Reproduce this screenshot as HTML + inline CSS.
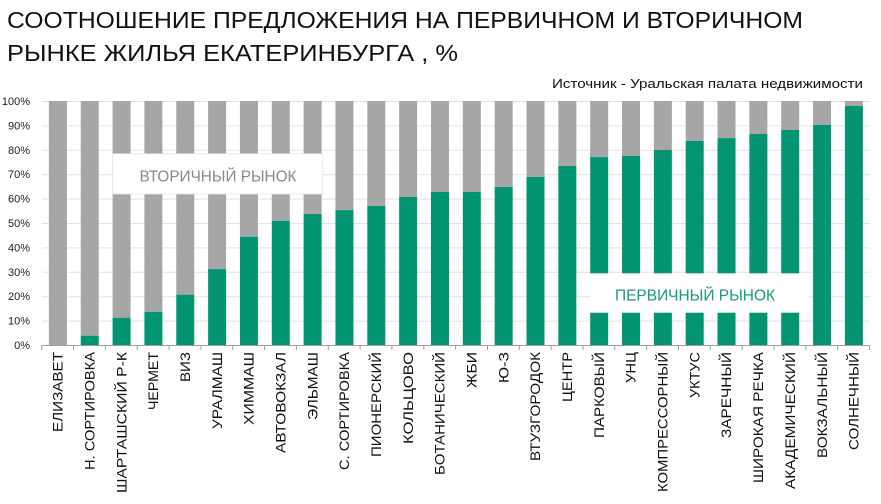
<!DOCTYPE html>
<html><head><meta charset="utf-8"><style>
html,body{margin:0;padding:0;background:#fff;}
svg{display:block;}
text{font-family:"Liberation Sans","Noto Sans CJK SC",sans-serif;}
</style></head><body>
<svg width="881" height="504" viewBox="0 0 881 504" xmlns="http://www.w3.org/2000/svg">
<rect width="881" height="504" fill="#fff"/>
<!-- title -->
<text x="7" y="28" font-size="23.5" fill="#111" textLength="796" lengthAdjust="spacingAndGlyphs">СООТНОШЕНИЕ ПРЕДЛОЖЕНИЯ НА ПЕРВИЧНОМ И ВТОРИЧНОМ</text>
<text x="7" y="61" font-size="23.5" fill="#111" textLength="451" lengthAdjust="spacingAndGlyphs">РЫНКЕ ЖИЛЬЯ ЕКАТЕРИНБУРГА , %</text>
<text x="552" y="88" font-size="13" fill="#111" textLength="311" lengthAdjust="spacingAndGlyphs">Источник - Уральская палата недвижимости</text>
<!-- grid -->
<g stroke="#e2e2e2" stroke-width="1">
<line x1="42" x2="870" y1="101.5" y2="101.5"/>
<line x1="42" x2="870" y1="125.9" y2="125.9"/>
<line x1="42" x2="870" y1="150.3" y2="150.3"/>
<line x1="42" x2="870" y1="174.7" y2="174.7"/>
<line x1="42" x2="870" y1="199.1" y2="199.1"/>
<line x1="42" x2="870" y1="223.5" y2="223.5"/>
<line x1="42" x2="870" y1="247.9" y2="247.9"/>
<line x1="42" x2="870" y1="272.3" y2="272.3"/>
<line x1="42" x2="870" y1="296.7" y2="296.7"/>
<line x1="42" x2="870" y1="321.1" y2="321.1"/>
</g>
<!-- y labels -->
<g font-size="11" fill="#222" text-anchor="end">
<text x="30" y="105">100%</text>
<text x="30" y="129.4">90%</text>
<text x="30" y="153.8">80%</text>
<text x="30" y="178.2">70%</text>
<text x="30" y="202.6">60%</text>
<text x="30" y="227">50%</text>
<text x="30" y="251.4">40%</text>
<text x="30" y="275.8">30%</text>
<text x="30" y="300.2">20%</text>
<text x="30" y="324.6">10%</text>
<text x="30" y="349">0%</text>
</g>
<!-- bars -->
<g fill="#a6a6a6">
<rect x="48.9" y="101" width="18" height="244"/>
<rect x="80.74" y="101" width="18" height="234.7"/>
<rect x="112.58" y="101" width="18" height="216.7"/>
<rect x="144.42" y="101" width="18" height="210.8"/>
<rect x="176.26" y="101" width="18" height="193.7"/>
<rect x="208.1" y="101" width="18" height="168.1"/>
<rect x="239.94" y="101" width="18" height="135.7"/>
<rect x="271.78" y="101" width="18" height="120"/>
<rect x="303.62" y="101" width="18" height="113"/>
<rect x="335.46" y="101" width="18" height="109.1"/>
<rect x="367.3" y="101" width="18" height="104.9"/>
<rect x="399.14" y="101" width="18" height="95.9"/>
<rect x="430.98" y="101" width="18" height="91"/>
<rect x="462.82" y="101" width="18" height="91"/>
<rect x="494.66" y="101" width="18" height="85.9"/>
<rect x="526.5" y="101" width="18" height="75.9"/>
<rect x="558.34" y="101" width="18" height="64.9"/>
<rect x="590.18" y="101" width="18" height="56.1"/>
<rect x="622.02" y="101" width="18" height="54.9"/>
<rect x="653.86" y="101" width="18" height="49"/>
<rect x="685.7" y="101" width="18" height="40"/>
<rect x="717.54" y="101" width="18" height="37.1"/>
<rect x="749.38" y="101" width="18" height="32.9"/>
<rect x="781.22" y="101" width="18" height="29"/>
<rect x="813.06" y="101" width="18" height="23.9"/>
<rect x="844.9" y="101" width="18" height="4.9"/>
</g>
<g fill="#039474">
<rect x="80.74" y="335.7" width="18" height="9.3"/>
<rect x="112.58" y="317.7" width="18" height="27.3"/>
<rect x="144.42" y="311.8" width="18" height="33.2"/>
<rect x="176.26" y="294.7" width="18" height="50.3"/>
<rect x="208.1" y="269.1" width="18" height="75.9"/>
<rect x="239.94" y="236.7" width="18" height="108.3"/>
<rect x="271.78" y="221" width="18" height="124"/>
<rect x="303.62" y="214" width="18" height="131"/>
<rect x="335.46" y="210.1" width="18" height="134.9"/>
<rect x="367.3" y="205.9" width="18" height="139.1"/>
<rect x="399.14" y="196.9" width="18" height="148.1"/>
<rect x="430.98" y="192" width="18" height="153"/>
<rect x="462.82" y="192" width="18" height="153"/>
<rect x="494.66" y="186.9" width="18" height="158.1"/>
<rect x="526.5" y="176.9" width="18" height="168.1"/>
<rect x="558.34" y="165.9" width="18" height="179.1"/>
<rect x="590.18" y="157.1" width="18" height="187.9"/>
<rect x="622.02" y="155.9" width="18" height="189.1"/>
<rect x="653.86" y="150" width="18" height="195"/>
<rect x="685.7" y="141" width="18" height="204"/>
<rect x="717.54" y="138.1" width="18" height="206.9"/>
<rect x="749.38" y="133.9" width="18" height="211.1"/>
<rect x="781.22" y="130" width="18" height="215"/>
<rect x="813.06" y="124.9" width="18" height="220.1"/>
<rect x="844.9" y="105.9" width="18" height="239.1"/>
</g>
<!-- annotation boxes -->
<rect x="112.7" y="153.8" width="210" height="40.2" fill="#fff" stroke="#e4e4e4" stroke-width="0.8"/>
<text x="139.5" y="181.3" font-size="16" fill="#8a8a8a" textLength="157" lengthAdjust="spacingAndGlyphs">ВТОРИЧНЫЙ РЫНОК</text>
<rect x="590" y="273.3" width="218.5" height="39.4" fill="#fff"/>
<text x="615" y="300.3" font-size="15.5" fill="#1b9a7b" textLength="160" lengthAdjust="spacingAndGlyphs">ПЕРВИЧНЫЙ РЫНОК</text>
<!-- x axis -->
<line x1="41.7" x2="869.5" y1="345.5" y2="345.5" stroke="#a0a0a0" stroke-width="1"/>
<g stroke="#a0a0a0" stroke-width="1">
<line x1="41.7" x2="41.7" y1="345" y2="350"/>
<line x1="73.5" x2="73.5" y1="345" y2="350"/>
<line x1="105.4" x2="105.4" y1="345" y2="350"/>
<line x1="137.2" x2="137.2" y1="345" y2="350"/>
<line x1="169.1" x2="169.1" y1="345" y2="350"/>
<line x1="200.9" x2="200.9" y1="345" y2="350"/>
<line x1="232.7" x2="232.7" y1="345" y2="350"/>
<line x1="264.6" x2="264.6" y1="345" y2="350"/>
<line x1="296.4" x2="296.4" y1="345" y2="350"/>
<line x1="328.3" x2="328.3" y1="345" y2="350"/>
<line x1="360.1" x2="360.1" y1="345" y2="350"/>
<line x1="391.9" x2="391.9" y1="345" y2="350"/>
<line x1="423.8" x2="423.8" y1="345" y2="350"/>
<line x1="455.6" x2="455.6" y1="345" y2="350"/>
<line x1="487.5" x2="487.5" y1="345" y2="350"/>
<line x1="519.3" x2="519.3" y1="345" y2="350"/>
<line x1="551.1" x2="551.1" y1="345" y2="350"/>
<line x1="583" x2="583" y1="345" y2="350"/>
<line x1="614.8" x2="614.8" y1="345" y2="350"/>
<line x1="646.7" x2="646.7" y1="345" y2="350"/>
<line x1="678.5" x2="678.5" y1="345" y2="350"/>
<line x1="710.3" x2="710.3" y1="345" y2="350"/>
<line x1="742.2" x2="742.2" y1="345" y2="350"/>
<line x1="774" x2="774" y1="345" y2="350"/>
<line x1="805.9" x2="805.9" y1="345" y2="350"/>
<line x1="837.7" x2="837.7" y1="345" y2="350"/>
<line x1="869.5" x2="869.5" y1="345" y2="350"/>
</g>
<!-- x labels -->
<g font-size="13.5" fill="#111" text-anchor="end">
<text transform="translate(62.6,352) rotate(-90)" textLength="80" lengthAdjust="spacingAndGlyphs">ЕЛИЗАВЕТ</text>
<text transform="translate(94.4,352) rotate(-90)" textLength="118" lengthAdjust="spacingAndGlyphs">Н. СОРТИРОВКА</text>
<text transform="translate(126.3,352) rotate(-90)" textLength="141" lengthAdjust="spacingAndGlyphs">ШАРТАШСКИЙ Р-К</text>
<text transform="translate(158.1,352) rotate(-90)" textLength="58" lengthAdjust="spacingAndGlyphs">ЧЕРМЕТ</text>
<text transform="translate(190,352) rotate(-90)" textLength="30" lengthAdjust="spacingAndGlyphs">ВИЗ</text>
<text transform="translate(221.8,352) rotate(-90)" textLength="77" lengthAdjust="spacingAndGlyphs">УРАЛМАШ</text>
<text transform="translate(253.6,352) rotate(-90)" textLength="73" lengthAdjust="spacingAndGlyphs">ХИММАШ</text>
<text transform="translate(285.5,352) rotate(-90)" textLength="101" lengthAdjust="spacingAndGlyphs">АВТОВОКЗАЛ</text>
<text transform="translate(317.3,352) rotate(-90)" textLength="68" lengthAdjust="spacingAndGlyphs">ЭЛЬМАШ</text>
<text transform="translate(349.2,352) rotate(-90)" textLength="118" lengthAdjust="spacingAndGlyphs">С. СОРТИРОВКА</text>
<text transform="translate(381,352) rotate(-90)" textLength="105" lengthAdjust="spacingAndGlyphs">ПИОНЕРСКИЙ</text>
<text transform="translate(412.8,352) rotate(-90)" textLength="92" lengthAdjust="spacingAndGlyphs">КОЛЬЦОВО</text>
<text transform="translate(444.7,352) rotate(-90)" textLength="123" lengthAdjust="spacingAndGlyphs">БОТАНИЧЕСКИЙ</text>
<text transform="translate(476.5,352) rotate(-90)" textLength="36" lengthAdjust="spacingAndGlyphs">ЖБИ</text>
<text transform="translate(508.4,352) rotate(-90)" textLength="31" lengthAdjust="spacingAndGlyphs">Ю-З</text>
<text transform="translate(540.2,352) rotate(-90)" textLength="109" lengthAdjust="spacingAndGlyphs">ВТУЗГОРОДОК</text>
<text transform="translate(572,352) rotate(-90)" textLength="50" lengthAdjust="spacingAndGlyphs">ЦЕНТР</text>
<text transform="translate(603.9,352) rotate(-90)" textLength="86" lengthAdjust="spacingAndGlyphs">ПАРКОВЫЙ</text>
<text transform="translate(635.7,352) rotate(-90)" textLength="31" lengthAdjust="spacingAndGlyphs">УНЦ</text>
<text transform="translate(667.6,352) rotate(-90)" textLength="140" lengthAdjust="spacingAndGlyphs">КОМПРЕССОРНЫЙ</text>
<text transform="translate(699.4,352) rotate(-90)" textLength="46" lengthAdjust="spacingAndGlyphs">УКТУС</text>
<text transform="translate(731.2,352) rotate(-90)" textLength="86" lengthAdjust="spacingAndGlyphs">ЗАРЕЧНЫЙ</text>
<text transform="translate(763.1,352) rotate(-90)" textLength="131" lengthAdjust="spacingAndGlyphs">ШИРОКАЯ РЕЧКА</text>
<text transform="translate(794.9,352) rotate(-90)" textLength="137" lengthAdjust="spacingAndGlyphs">АКАДЕМИЧЕСКИЙ</text>
<text transform="translate(826.8,352) rotate(-90)" textLength="106" lengthAdjust="spacingAndGlyphs">ВОКЗАЛЬНЫЙ</text>
<text transform="translate(858.6,352) rotate(-90)" textLength="98" lengthAdjust="spacingAndGlyphs">СОЛНЕЧНЫЙ</text>
</g>
</svg>
</body></html>
